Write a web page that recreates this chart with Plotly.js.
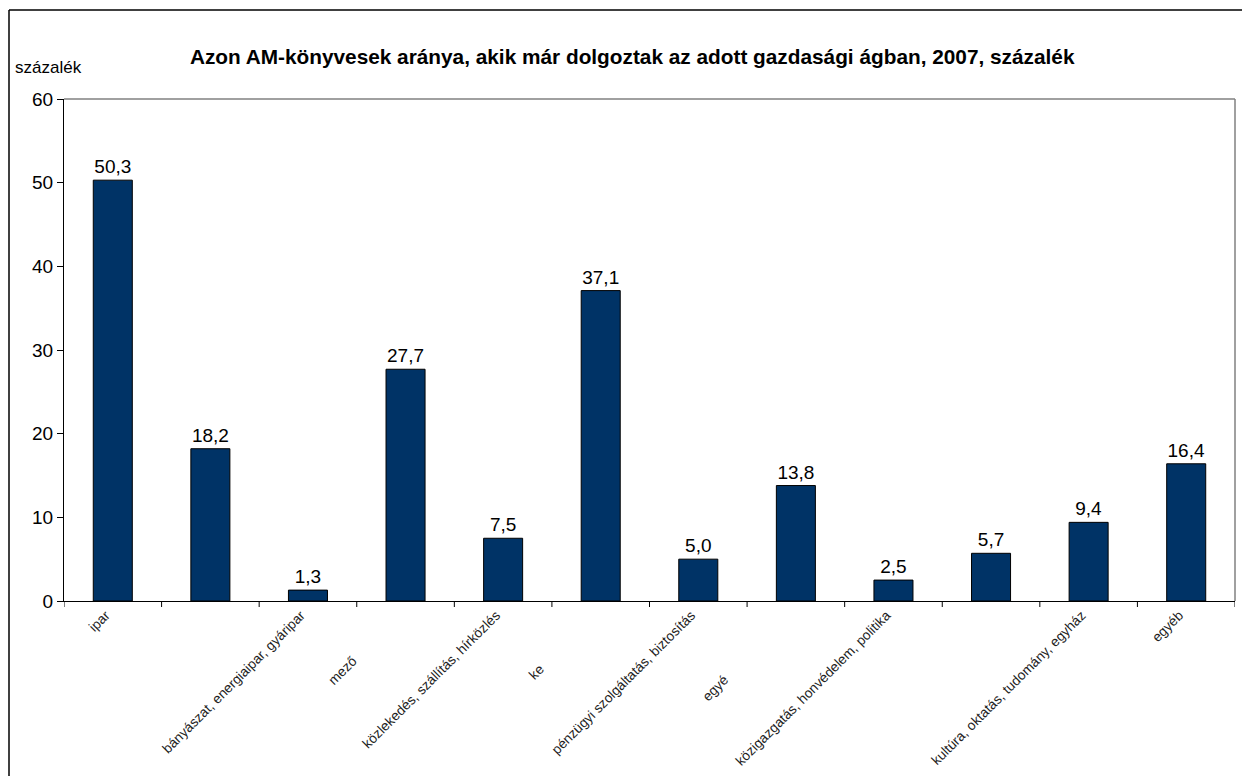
<!DOCTYPE html>
<html>
<head>
<meta charset="utf-8">
<script src="https://cdn.plot.ly/plotly-3.0.1.min.js"></script>
<style>
  html, body { margin: 0; padding: 0; background: #fff; }
  #chart { width: 1242px; height: 776px; }
</style>
</head>
<body>
<div id="chart"></div>
<script>
// Category labels as they are visible in the reference (some are cut off / hidden there)
const labels = [
  "ipar",
  "",
  "bányászat, energiaipar, gyáripar",
  "mező",
  "közlekedés, szállítás, hírközlés",
  "ke",
  "pénzügyi szolgáltatás, biztosítás",
  "egyé",
  "közigazgatás, honvédelem, politika",
  "",
  "kultúra, oktatás, tudomány, egyház",
  "egyéb"
];
// trailing blank room after the cut-off labels (styling only)
const labelPad = [0, 0, 0, 17, 0, 20, 0, 24, 0, 0, 0, 0];
const values = [50.3, 18.2, 1.3, 27.7, 7.5, 37.1, 5.0, 13.8, 2.5, 5.7, 9.4, 16.4];
const yTicks = [0, 10, 20, 30, 40, 50, 60];

const W = 1242, H = 776;
const m = {l: 64, r: 7, t: 99, b: 175};
const pw = W - m.l - m.r, ph = H - m.t - m.b;
const px = x => (x - m.l) / pw;
const py = y => 1 - (y - m.t) / ph;

const idx = values.map((v, i) => i);
const tickText = labels.map((s, i) => s + '\u00a0'.repeat(labelPad[i]));

const trace = {
  type: 'bar',
  x: idx,
  y: values,
  marker: {color: '#003366', line: {color: '#000000', width: 1}},
  texttemplate: '%{y:.1f}',
  textposition: 'outside',
  textfont: {family: 'Liberation Sans, Arial, sans-serif', size: 19, color: '#000'},
  cliponaxis: false,
  hoverinfo: 'none'
};

const layout = {
  width: W, height: H,
  margin: m,
  separators: ',.',
  paper_bgcolor: '#fff',
  plot_bgcolor: '#fff',
  bargap: 0.6,
  showlegend: false,
  font: {family: 'Liberation Sans, Arial, sans-serif', color: '#000'},
  title: {
    text: '<b>Azon AM-könyvesek aránya, akik már dolgoztak az adott gazdasági ágban, 2007, százalék</b>',
    font: {size: 20.8, color: '#000'},
    x: 0.509, xanchor: 'center', y: 1 - 57 / H, yanchor: 'middle'
  },
  xaxis: {
    type: 'linear',
    range: [-0.5, values.length - 0.5],
    tickmode: 'array',
    tickvals: idx,
    ticktext: tickText,
    tickangle: -45,
    ticklabelshift: -7,
    ticks: '',
    showline: true, linecolor: '#000', linewidth: 1,
    showgrid: false, zeroline: false,
    tickfont: {size: 13.7, color: '#222'},
    fixedrange: true
  },
  yaxis: {
    range: [0, 60],
    tickmode: 'array',
    tickvals: yTicks,
    ticks: 'outside', ticklen: 6, tickcolor: '#000',
    showline: true, linecolor: '#000', linewidth: 1,
    showgrid: false, zeroline: false,
    tickfont: {size: 19, color: '#000'},
    fixedrange: true
  },
  shapes: [
    // plot area border (top & right)
    {type: 'line', xref: 'paper', yref: 'paper', x0: 0, x1: 1, y0: 1, y1: 1, line: {color: '#808080', width: 1.5}},
    {type: 'line', xref: 'paper', yref: 'paper', x0: 1, x1: 1, y0: 0, y1: 1, line: {color: '#808080', width: 1.5}},
    // outer chart frame (left & top)
    {type: 'line', xref: 'paper', yref: 'paper', x0: px(9), x1: px(9), y0: py(10), y1: py(H + 5), line: {color: '#000', width: 1.5}},
    {type: 'line', xref: 'paper', yref: 'paper', x0: px(9), x1: px(W + 5), y0: py(10), y1: py(10), line: {color: '#000', width: 1.5}}
  ].concat(
    // category boundary tick marks on the x axis
    idx.concat([values.length]).map(i => ({
      type: 'line', xref: 'x', yref: 'paper', x0: i - 0.5, x1: i - 0.5, y0: 0, y1: -6 / ph,
      line: {color: '#000', width: 1}
    }))
  ),
  annotations: [
    {text: 'százalék', xref: 'paper', yref: 'paper', x: px(13), y: py(67), xanchor: 'left', yanchor: 'middle',
     showarrow: false, font: {size: 17, color: '#000'}}
  ]
};

Plotly.newPlot('chart', [trace], layout, {displayModeBar: false, staticPlot: true});
</script>
</body>
</html>
